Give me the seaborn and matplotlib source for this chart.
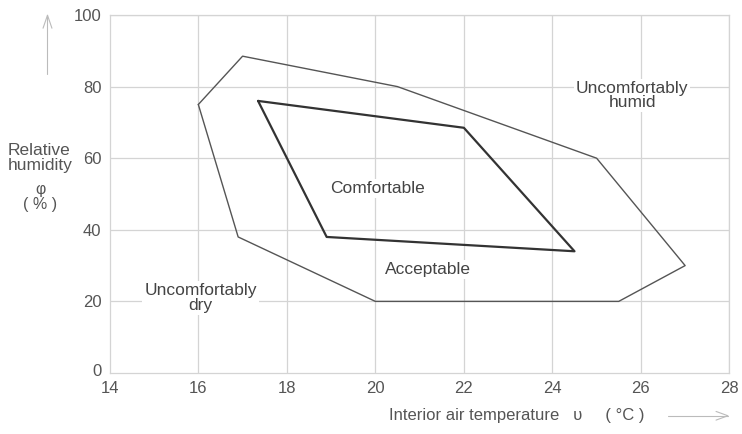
import numpy as np
import pandas as pd
import seaborn as sns
import matplotlib.pyplot as plt

# outer zone (acceptable) and inner zone (comfortable), closed polygons
outer_temp = [16.0, 17.0, 20.5, 25.0, 27.0, 25.5, 20.0, 16.9, 16.0]
outer_rh = [75.0, 88.5, 80.0, 60.0, 30.0, 20.0, 20.0, 38.0, 75.0]
inner_temp = [17.35, 22.0, 24.5, 18.9, 17.35]
inner_rh = [76.0, 68.5, 34.0, 38.0, 76.0]

x_ticks = [14, 16, 18, 20, 22, 24, 26, 28]
y_ticks = [0, 20, 40, 60, 80, 100]

zone_labels = ['Uncomfortably\nhumid', 'Comfortable', 'Acceptable', 'Uncomfortably\ndry']
label_temp = [25.8, 20.05, 21.2, 16.05]
label_rh = [77.5, 51.5, 28.8, 21.0]

sns.set_style('white')
plt.rcParams['font.family'] = ['Liberation Sans', 'DejaVu Sans']

outer = pd.DataFrame({'temp': outer_temp, 'rh': outer_rh})
inner = pd.DataFrame({'temp': inner_temp, 'rh': inner_rh})

fig = plt.figure(figsize=(7.42, 4.34), dpi=100)
ax = fig.add_axes([0.148, 0.1406, 0.835, 0.8248])

grey = '#d4d4d4'
for v in x_ticks[1:]:
    ax.axvline(v, color=grey, lw=0.9, zorder=0)
for v in y_ticks[1:]:
    ax.axhline(v, color=grey, lw=0.9, zorder=0)

sns.lineplot(data=outer, x='temp', y='rh', sort=False, estimator=None,
             color='#555555', lw=1.0, ax=ax)
sns.lineplot(data=inner, x='temp', y='rh', sort=False, estimator=None,
             color='#333333', lw=1.6, ax=ax)

for txt, tx, ty in zip(zone_labels, label_temp, label_rh):
    ax.text(tx, ty, txt, ha='center', va='center', fontsize=12.5, color='#444444',
            linespacing=0.95, zorder=3,
            bbox=dict(facecolor='white', edgecolor='none', pad=1.5))

ax.set_xlim(14, 28)
ax.set_ylim(0, 100)
ax.set_xticks(x_ticks)
ax.set_yticks(y_ticks)
ax.set_xticklabels([str(t) for t in x_ticks])
ax.set_yticklabels(['' if t == 0 else str(t) for t in y_ticks])
ax.tick_params(length=0, labelsize=12, labelcolor='#555555', pad=6)
ax.set_xlabel('')
ax.set_ylabel('')
for s in ax.spines.values():
    s.set_color(grey)
    s.set_linewidth(0.9)

# the lone "0" at the origin sits up and left of "14"
fig.text(0.131, 0.143, '0', fontsize=12, color='#555555', ha='center', va='center')

# y axis caption
fig.text(0.01, 0.636, 'Relative\nhumidity', fontsize=12.5, color='#555555',
         ha='left', va='center', linespacing=0.95)
fig.text(0.054, 0.546, 'φ\n( % )', fontsize=11.5, color='#555555',
         ha='center', va='center', linespacing=0.95)
fig.add_artist(plt.Line2D([0.064, 0.064], [0.83, 0.965], color='#bbbbbb', lw=0.8))
fig.add_artist(plt.Line2D([0.058, 0.064, 0.070], [0.935, 0.965, 0.935], color='#bbbbbb', lw=0.8))

# x axis caption
fig.text(0.697, 0.043, 'Interior air temperature   υ     ( °C )', fontsize=12,
         color='#555555', ha='center', va='center')
fig.add_artist(plt.Line2D([0.9, 0.981], [0.042, 0.042], color='#bbbbbb', lw=0.8))
fig.add_artist(plt.Line2D([0.965, 0.981, 0.965], [0.052, 0.042, 0.032], color='#bbbbbb', lw=0.8))

fig.savefig('out.png', dpi=100)
